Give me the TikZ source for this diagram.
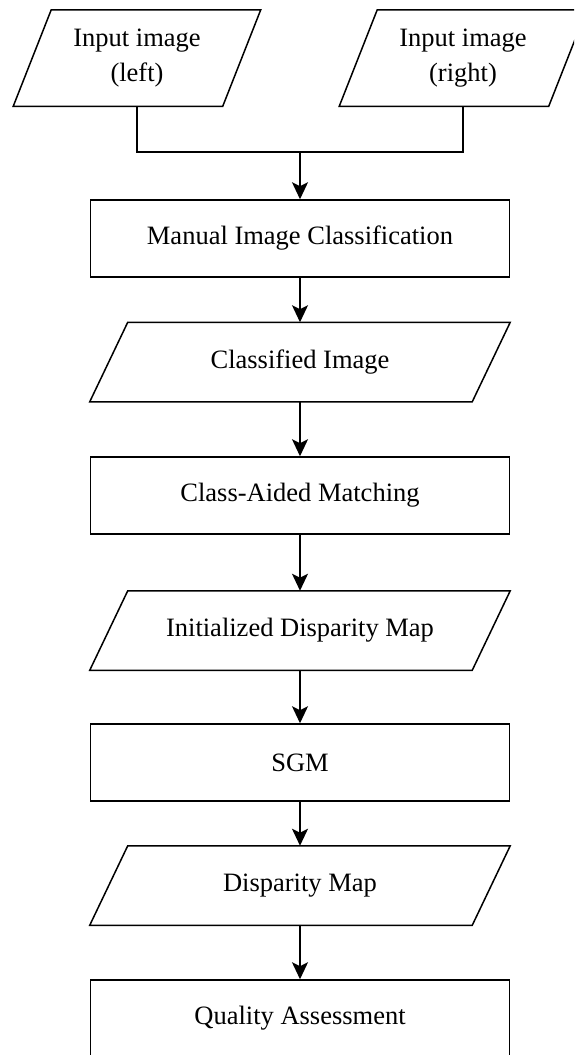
\documentclass[tikz,border=0pt]{standalone}
\usepackage{fontspec}
\setmainfont{Liberation Serif}
\usetikzlibrary{arrows.meta}

\tikzset{
  procbox/.style={draw, rectangle, minimum width=419pt, minimum height=77pt, inner sep=0pt},
  iobox/.style={rectangle, minimum width=381pt, minimum height=78pt, inner sep=0pt},
  inbox/.style={iobox, minimum width=208pt, minimum height=95pt, align=center},
  flowline/.style={-{Stealth[length=17pt,width=16pt,inset=4pt]}},
}

\begin{document}
\begin{tikzpicture}[x=1pt, y=-1pt, line width=1.5pt, font=\fontsize{26.5}{35}\selectfont]
  \useasboundingbox (0,0) rectangle (574,1055);
  \clip (0,0) rectangle (574,1055);

  \node[inbox] (inL) at (137,58) {Input image\\(left)};
  \node[inbox] (inR) at (463,58) {Input image\\(right)};
  \coordinate (join) at (300,152);

  \node[procbox] (manual)   at (300,238.5) {Manual Image Classification};
  \node[iobox]   (classimg) at (300,362)   {Classified Image};
  \node[procbox] (camatch)  at (300,495.5) {Class-Aided Matching};
  \node[iobox]   (initdisp) at (300,630.5) {Initialized Disparity Map};
  \node[procbox] (sgm)      at (300,762.5) {SGM};
  \node[iobox]   (disp)     at (300,885.5) {Disparity Map};
  \node[procbox] (quality)  at (300,1018.5) {Quality Assessment};

  % slanted outlines of the data boxes
  \foreach \n in {inL,inR,classimg,initdisp,disp}
    \draw ([xshift=-19pt]\n.south west) -- ([xshift=19pt]\n.north west)
       -- ([xshift=19pt]\n.north east) -- ([xshift=-19pt]\n.south east) -- cycle;

  \draw (inL) |- (join) -| (inR);
  \draw[flowline] (join) -- (manual);
  \draw[flowline] (manual) -- (classimg);
  \draw[flowline] (classimg) -- (camatch);
  \draw[flowline] (camatch) -- (initdisp);
  \draw[flowline] (initdisp) -- (sgm);
  \draw[flowline] (sgm) -- (disp);
  \draw[flowline] (disp) -- (quality);
\end{tikzpicture}
\end{document}
